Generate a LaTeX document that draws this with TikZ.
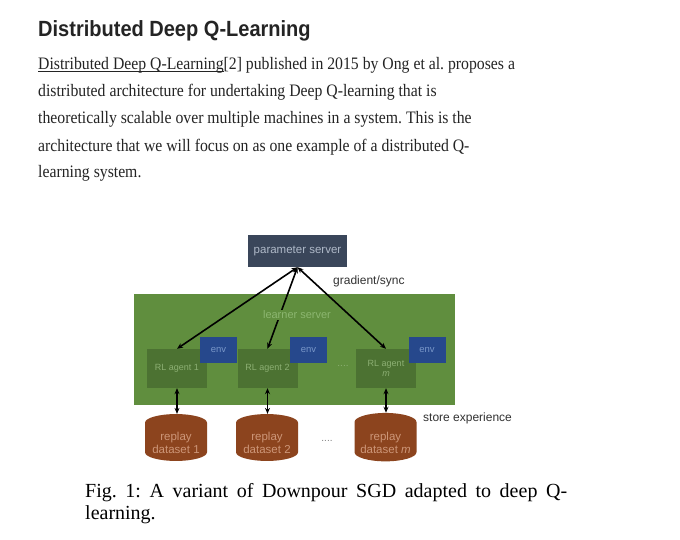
\documentclass[tikz,border=0pt]{standalone}
\usepackage{fontspec}
\setmainfont{Liberation Serif}
\newfontfamily\bodyfont[FakeStretch=0.9]{Liberation Serif}
\newfontfamily\titlefont[FakeStretch=0.91]{Liberation Sans}
\newfontfamily\diagfont{Liberation Sans}
\usetikzlibrary{shapes.geometric,arrows.meta}
\frenchspacing
\newcommand\ulink[1]{\setbox0\hbox{#1}\rlap{\rule[-2.2pt]{\wd0}{0.8pt}}\box0}

\definecolor{psfill}{RGB}{58,70,90}
\definecolor{pstext}{RGB}{175,185,200}
\definecolor{learnergreen}{RGB}{96,142,62}
\definecolor{learnertext}{RGB}{140,182,112}
\definecolor{agentgreen}{RGB}{76,114,50}
\definecolor{agenttext}{RGB}{140,175,115}
\definecolor{envblue}{RGB}{38,72,140}
\definecolor{envtext}{RGB}{120,150,200}
\definecolor{replaybrown}{RGB}{140,68,30}
\definecolor{replaytext}{RGB}{205,150,120}
\definecolor{bodytext}{RGB}{36,36,36}
\definecolor{notetext}{RGB}{50,50,50}

\begin{document}
\begin{tikzpicture}[x=1pt,y=-1pt,
    txtline/.style={anchor=base west,inner sep=0pt,text=bodytext,font=\bodyfont\fontsize{17.5}{21}\selectfont},
    agentbox/.style={fill=agentgreen,minimum width=60pt,minimum height=39pt,inner sep=1pt,
        text=agenttext,align=center,font=\diagfont\fontsize{9}{10}\selectfont},
    envbox/.style={fill=envblue,minimum width=37pt,minimum height=26pt,inner sep=1pt,
        text=envtext,font=\diagfont\fontsize{9.5}{10}\selectfont},
    replaydb/.style={cylinder,shape border rotate=90,aspect=0.35,draw=none,fill=replaybrown,
        minimum width=62pt,minimum height=46pt,inner sep=1pt,text=replaytext,align=center,
        font=\diagfont\fontsize{11.5}{12.5}\selectfont},
    note/.style={text=notetext,font=\diagfont\fontsize{12}{14}\selectfont,inner sep=0pt},
    link/.style={black,line width=1.6pt,{Stealth[length=6pt,width=5pt]}-{Stealth[length=6pt,width=5pt]}}]
    \useasboundingbox[fill=white] (0,0) rectangle (680,540);

    % heading and paragraph
    \node[anchor=base west,inner sep=0pt,text=bodytext,font=\titlefont\bfseries\fontsize{22}{26}\selectfont] (title) at (38,37) {Distributed Deep Q-Learning};
    \node[txtline] (l1) at (38,70) {\ulink{Distributed Deep Q-Learning}[2] published in 2015 by Ong et al. proposes a};
    \node[txtline] (l2) at (38,97) {distributed architecture for undertaking Deep Q-learning that is};
    \node[txtline] (l3) at (38,124) {theoretically scalable over multiple machines in a system. This is the};
    \node[txtline] (l4) at (38,152) {architecture that we will focus on as one example of a distributed Q-};
    \node[txtline] (l5) at (38,178) {learning system.};

    % learner server
    \fill[learnergreen] (134,294) rectangle (455,405);
    \node[fill=psfill,minimum width=99pt,minimum height=32pt,inner sep=1pt,text=pstext,
        font=\diagfont\fontsize{11.5}{13}\selectfont] (ps) at (297.5,251) {parameter server};
    \node[note,anchor=west] (sync) at (333,281) {gradient/sync};

    \node[agentbox] (a1) at (177,368.5) {RL agent 1};
    \node[agentbox] (a2) at (267.5,368.5) {RL agent 2};
    \node[agentbox] (am) at (386,368.5) {RL agent\\\textit{m}};
    \node[envbox] (e1) at (218.5,350) {env};
    \node[envbox] (e2) at (308.5,350) {env};
    \node[envbox] (em) at (427,350) {env};
    \node[text=agenttext,font=\diagfont\fontsize{10}{10}\selectfont] (adots) at (343,366) {....};

    \draw[link] (ps.south) -- (a1.north);
    \draw[link] (ps.south) -- (a2.north);
    \draw[link] (ps.south) -- (am.north);
    \node[fill=learnergreen,inner sep=1pt,text=learnertext,font=\diagfont\fontsize{11}{13}\selectfont] (learner) at (297,315) {learner server};

    % replay memory
    \node[replaydb] (r1) at (176,443) {replay\\dataset 1};
    \node[replaydb] (r2) at (267,443) {replay\\dataset 2};
    \node[replaydb] (rm) at (385.5,443) {replay\\dataset \textit{m}};
    \node[text=gray,font=\diagfont\fontsize{10}{10}\selectfont] (rdots) at (327,441) {....};
    \draw[link] (a1.south) -- (a1.south |- r1.north);
    \draw[link] (a2.south) -- (a2.south |- r2.north);
    \draw[link] (am.south) -- (am.south |- rm.north);
    \node[note,anchor=west] (store) at (423,418) {store experience};

    % caption
    \node[anchor=base west,inner sep=0pt,font=\fontsize{20}{24}\selectfont] (cap1) at (85,497) {\makebox[482pt][s]{Fig. 1: A variant of Downpour SGD adapted to deep Q-}};
    \node[anchor=base west,inner sep=0pt,font=\fontsize{20}{24}\selectfont] (cap2) at (85,519) {learning.};
\end{tikzpicture}
\end{document}
